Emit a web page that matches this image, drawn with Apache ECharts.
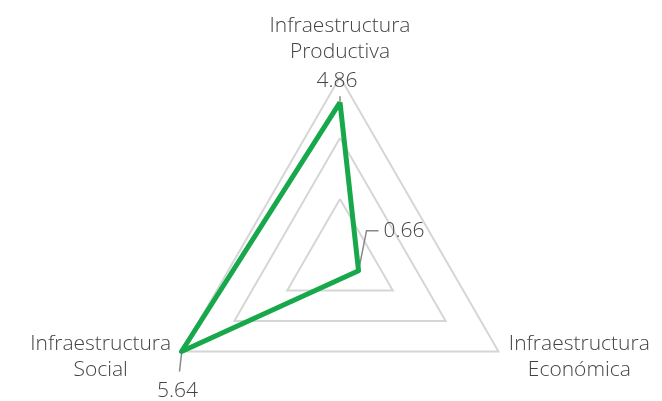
<!DOCTYPE html>
<html><head><meta charset="utf-8">
<script src="https://cdn.jsdelivr.net/npm/echarts@6/dist/echarts.min.js"></script>
<style>html,body{margin:0;padding:0;background:#fff}#c{width:662px;height:401px}</style>
</head><body><div id="c"></div>
<script>
const indicators = ['Infraestructura\nProductiva', 'Infraestructura\nSocial', 'Infraestructura\nEconómica'];
const values = [4.86, 5.64, 0.66];
const maxValue = 5.64;
const valueLabels = ['4.86', '5.64', '0.66'];

const FONT = '"Open Sans", sans-serif';
const chart = echarts.init(document.getElementById('c'));
chart.setOption({
  animation: false,
  radar: {
    center: [340, 260],
    radius: 183,
    startAngle: 90,
    splitNumber: 3,
    shape: 'polygon',
    indicator: indicators.map(n => ({ name: n, max: maxValue, min: 0 })),
    axisNameGap: 12,
    axisName: {
      color: '#444',
      fontFamily: FONT,
      fontWeight: 300,
      fontSize: 21,
      formatter: function (name) {
        return name.split('\n').map(s => '{a|' + s + '}').join('\n');
      },
      rich: { a: { align: 'center', color: '#444', fontFamily: FONT, fontWeight: 300, fontSize: 21, lineHeight: 26 } }
    },
    axisLine: { show: false },
    splitLine: { lineStyle: { color: '#d6d6d6', width: 2 } },
    splitArea: { show: false },
    axisTick: { show: false },
    axisLabel: { show: false }
  },
  series: [{
    type: 'radar',
    symbol: 'none',
    lineStyle: { color: '#16a84a', width: 5 },
    data: [{ value: values }]
  }]
});

// value labels with leader lines, positioned from the radar coordinate system
const radar = chart.getModel().getComponent('radar', 0).coordinateSystem;
const pts = values.map((v, i) => radar.dataToPoint(v, i));
const lineStyle = { stroke: '#888', lineWidth: 1.5 };
const textStyle = { fill: '#444', font: '300 21px ' + FONT };
const p0 = pts[0], p1 = pts[1], p2 = pts[2];
chart.setOption({
  graphic: [
    { type: 'polyline', shape: { points: [[p0[0], p0[1] + 2], [p0[0], p0[1] - 6]] }, style: lineStyle, z: 1 },
    { type: 'text', x: p0[0] - 3, y: p0[1] - 21, style: Object.assign({ text: valueLabels[0], align: 'center', verticalAlign: 'middle' }, textStyle) },
    { type: 'polyline', shape: { points: [[p1[0], p1[1] + 2], [p1[0] - 2, p1[1] + 20]] }, style: lineStyle, z: 1 },
    { type: 'text', x: p1[0] - 4, y: p1[1] + 40, style: Object.assign({ text: valueLabels[1], align: 'center', verticalAlign: 'middle' }, textStyle) },
    { type: 'polyline', shape: { points: [[p2[0], p2[1]], [p2[0] + 8, p2[1] - 40], [p2[0] + 20, p2[1] - 40]] }, style: lineStyle, z: 1 },
    { type: 'text', x: p2[0] + 25, y: p2[1] - 40, style: Object.assign({ text: valueLabels[2], align: 'left', verticalAlign: 'middle' }, textStyle) }
  ]
});
</script></body></html>
